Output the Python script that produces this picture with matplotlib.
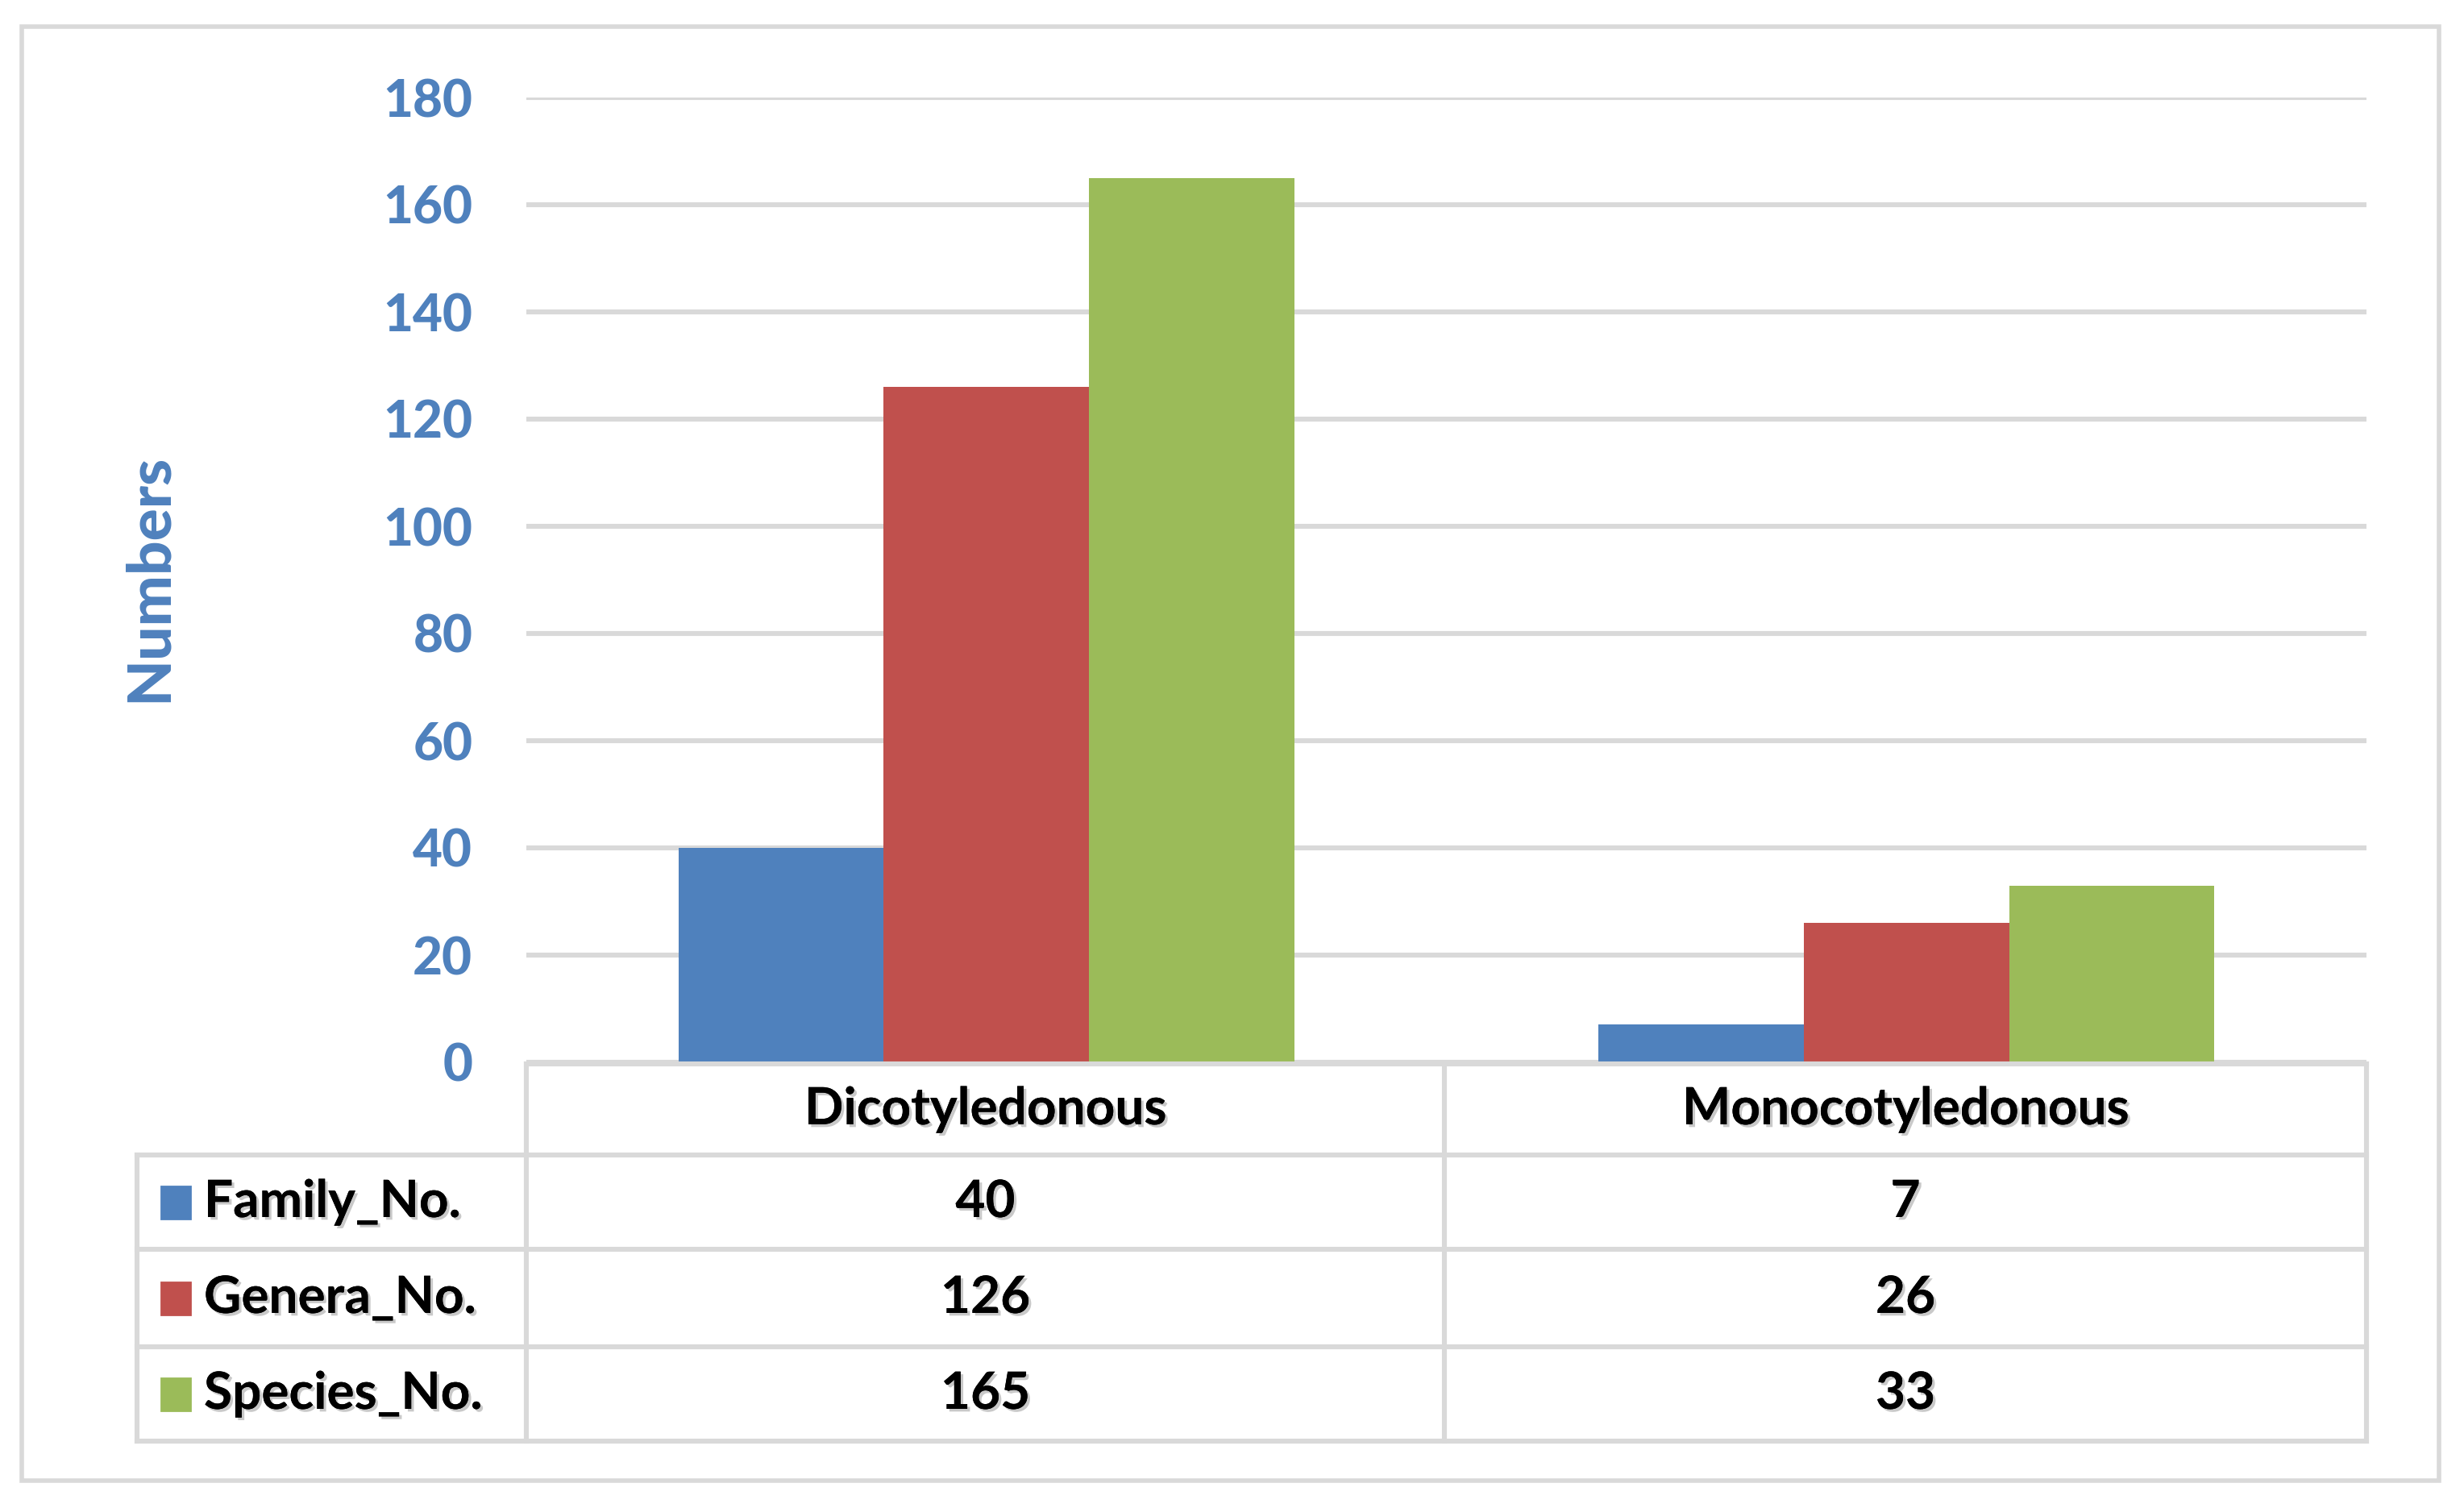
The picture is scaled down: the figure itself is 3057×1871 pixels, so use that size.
import numpy as np
import matplotlib
matplotlib.use("Agg")
import matplotlib.pyplot as plt
import matplotlib.patheffects as pe
from matplotlib.patches import Rectangle

# -------- data --------
categories = ["Dicotyledonous", "Monocotyledonous"]
series_names = ["Family_No.", "Genera_No.", "Species_No."]
family_no = [40, 7]
genera_no = [126, 26]
species_no = [165, 33]
y_ticks = [0, 20, 40, 60, 80, 100, 120, 140, 160, 180]

COLORS = ["#4F81BD", "#C0504D", "#9BBB59"]
GRID = "#D9D9D9"
TICK_BLUE = "#4F81BD"
FONT = "Lato"

W, H = 3057, 1871
DPI = 200


def fx(px):
    return px / W


def fy(py):
    return 1 - py / H


shadow = [pe.withSimplePatchShadow(offset=(1.2, -1.2), shadow_rgbFace="#888888", alpha=0.45), pe.Normal()]


def main():
    fig = plt.figure(figsize=(W / DPI, H / DPI), dpi=DPI)
    fig.patch.set_facecolor("white")

    # outer chart border
    fig.patches.append(Rectangle((fx(27), fy(1837)), fx(3026) - fx(27), fy(33) - fy(1837),
                                 transform=fig.transFigure, fill=False, edgecolor=GRID, lw=2.0))

    # plot area
    left, right, top, bottom = 653, 2936, 121, 1318
    ax = fig.add_axes([fx(left), fy(bottom), fx(right) - fx(left), fy(top) - fy(bottom)])
    series = [family_no, genera_no, species_no]
    x = np.arange(len(categories))
    bw = 0.223
    for i, vals in enumerate(series):
        ax.bar(x + (i - 1) * bw, vals, width=bw, color=COLORS[i], zorder=3, label=series_names[i])

    ax.set_xlim(-0.5, len(categories) - 0.5)
    ax.set_ylim(0, 180)
    ax.set_yticks(y_ticks)
    ax.set_xticks([])
    ax.yaxis.grid(True, color=GRID, lw=2.2, zorder=0)
    ax.set_axisbelow(True)
    for s in ax.spines.values():
        s.set_visible(False)
    ax.tick_params(axis="y", length=0, pad=24, labelcolor=TICK_BLUE)
    for lab in ax.get_yticklabels():
        lab.set_fontfamily(FONT)
        lab.set_fontweight("black")
        lab.set_fontsize(23)

    fig.text(fx(185), fy(717), "Numbers", rotation=90, ha="center", va="center",
             color=TICK_BLUE, fontsize=27, fontweight="black", family=FONT)

    # -------- data table --------
    rows_y = [1320, 1433, 1550, 1671, 1788]
    cols_x = [170, 653, 1792, 2936]
    lw = 2.2
    # horizontal lines
    fig.add_artist(plt.Line2D([fx(cols_x[1]), fx(cols_x[3])], [fy(rows_y[0])] * 2, color=GRID, lw=lw))
    for yy in rows_y[1:]:
        fig.add_artist(plt.Line2D([fx(cols_x[0]), fx(cols_x[3])], [fy(yy)] * 2, color=GRID, lw=lw))
    # vertical lines
    fig.add_artist(plt.Line2D([fx(cols_x[0])] * 2, [fy(rows_y[1]), fy(rows_y[4])], color=GRID, lw=lw))
    for xx in cols_x[1:]:
        fig.add_artist(plt.Line2D([fx(xx)] * 2, [fy(rows_y[0]), fy(rows_y[4])], color=GRID, lw=lw))

    # header
    for j, cat in enumerate(categories):
        cx = (cols_x[j + 1] + cols_x[j + 2]) / 2
        cy = (rows_y[0] + rows_y[1]) / 2
        fig.text(fx(cx), fy(cy), cat, ha="center", va="center", fontsize=23,
                 fontweight="bold", family=FONT, color="black", path_effects=shadow)

    # series rows
    for i, name in enumerate(series_names):
        cy = (rows_y[i + 1] + rows_y[i + 2]) / 2
        fig.patches.append(Rectangle((fx(200), fy(cy + 20)), fx(236) - fx(200), fy(cy - 20) - fy(cy + 20),
                                     transform=fig.transFigure, color=COLORS[i]))
        fig.text(fx(253), fy(cy), name, ha="left", va="center", fontsize=23,
                 fontweight="bold", family=FONT, color="black", path_effects=shadow)
        for j in range(len(categories)):
            cx = (cols_x[j + 1] + cols_x[j + 2]) / 2
            fig.text(fx(cx), fy(cy), str(series[i][j]), ha="center", va="center", fontsize=23,
                     fontweight="bold", family=FONT, color="black", path_effects=shadow)

    fig.savefig("out.png", dpi=DPI, facecolor="white")


if __name__ == "__main__":
    main()
